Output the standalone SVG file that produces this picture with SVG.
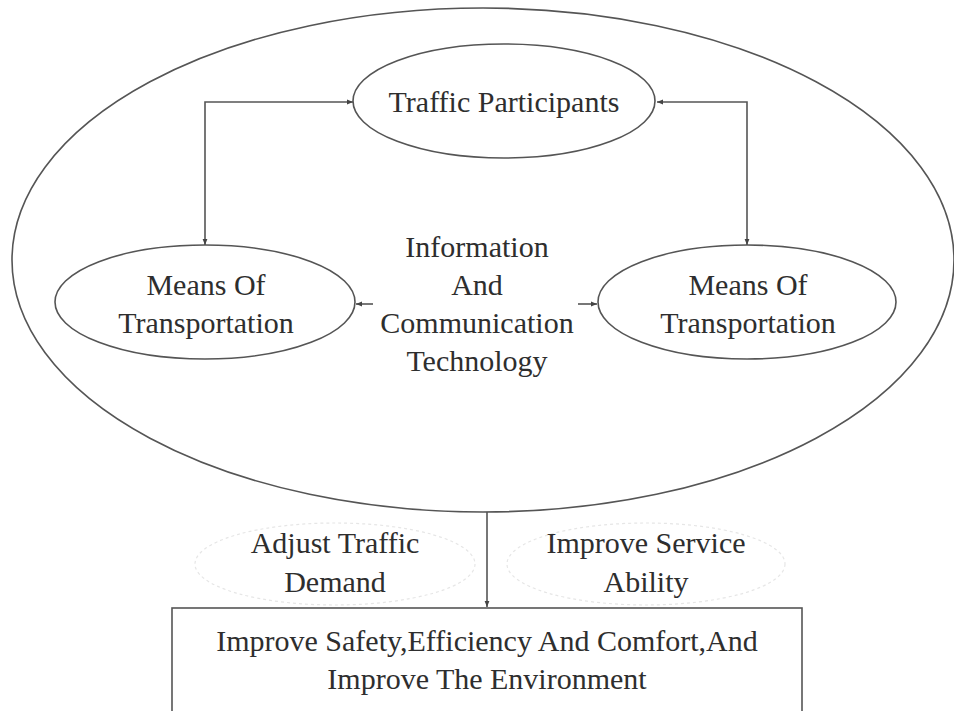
<svg xmlns="http://www.w3.org/2000/svg" width="954" height="711" viewBox="0 0 954 711">
<style>
.shape{fill:none;stroke:#555;stroke-width:1.6}
.faint{fill:none;stroke:#e6e6e6;stroke-width:1.2;stroke-dasharray:3 3}
.conn{fill:none;stroke:#555;stroke-width:1.6}
text{font-family:"Liberation Serif","Times New Roman",serif;font-size:30px;fill:#2e2e2e;text-anchor:middle}
</style>
<defs>
<marker id="arr" viewBox="0 0 10 10" refX="10" refY="5" markerWidth="6" markerHeight="6" orient="auto-start-reverse" markerUnits="userSpaceOnUse">
<path d="M0,1 L10,5 L0,9 z" fill="#444"/>
</marker>
</defs>
<rect width="954" height="711" fill="#fff"/>
<g id="system">
<ellipse class="shape" cx="483" cy="260" rx="471" ry="252"/>
</g>
<g id="traffic-participants">
<ellipse class="shape" cx="504" cy="101" rx="151" ry="57"/>
<text x="504" y="112">Traffic Participants</text>
</g>
<g id="means-left">
<ellipse class="shape" cx="205" cy="302" rx="150" ry="57"/>
<text x="206" y="295">Means Of</text>
<text x="206" y="333">Transportation</text>
</g>
<g id="means-right">
<ellipse class="shape" cx="747" cy="302" rx="149" ry="57"/>
<text x="748" y="295">Means Of</text>
<text x="748" y="333">Transportation</text>
</g>
<g id="ict">
<text x="477" y="257">Information</text>
<text x="477" y="295">And</text>
<text x="477" y="333">Communication</text>
<text x="477" y="371">Technology</text>
</g>
<g id="adjust-demand">
<ellipse class="faint" cx="335" cy="564" rx="140" ry="41"/>
<text x="335" y="553">Adjust Traffic</text>
<text x="335" y="592">Demand</text>
</g>
<g id="service-ability">
<ellipse class="faint" cx="646" cy="564" rx="139" ry="41"/>
<text x="646" y="553">Improve Service</text>
<text x="646" y="592">Ability</text>
</g>
<g id="goal">
<rect class="shape" x="172" y="608" width="630" height="110"/>
<text x="487" y="651">Improve Safety,Efficiency And Comfort,And</text>
<text x="487" y="689">Improve The Environment</text>
</g>
<g id="connectors">
<path class="conn" d="M205,245 V102 H353" marker-start="url(#arr)" marker-end="url(#arr)"/>
<path class="conn" d="M747,245 V102 H657" marker-start="url(#arr)" marker-end="url(#arr)"/>
<path class="conn" d="M373,304 H356" marker-end="url(#arr)"/>
<path class="conn" d="M578,304 H597" marker-end="url(#arr)"/>
<path class="conn" d="M487,512 V607" marker-end="url(#arr)"/>
</g>
</svg>
